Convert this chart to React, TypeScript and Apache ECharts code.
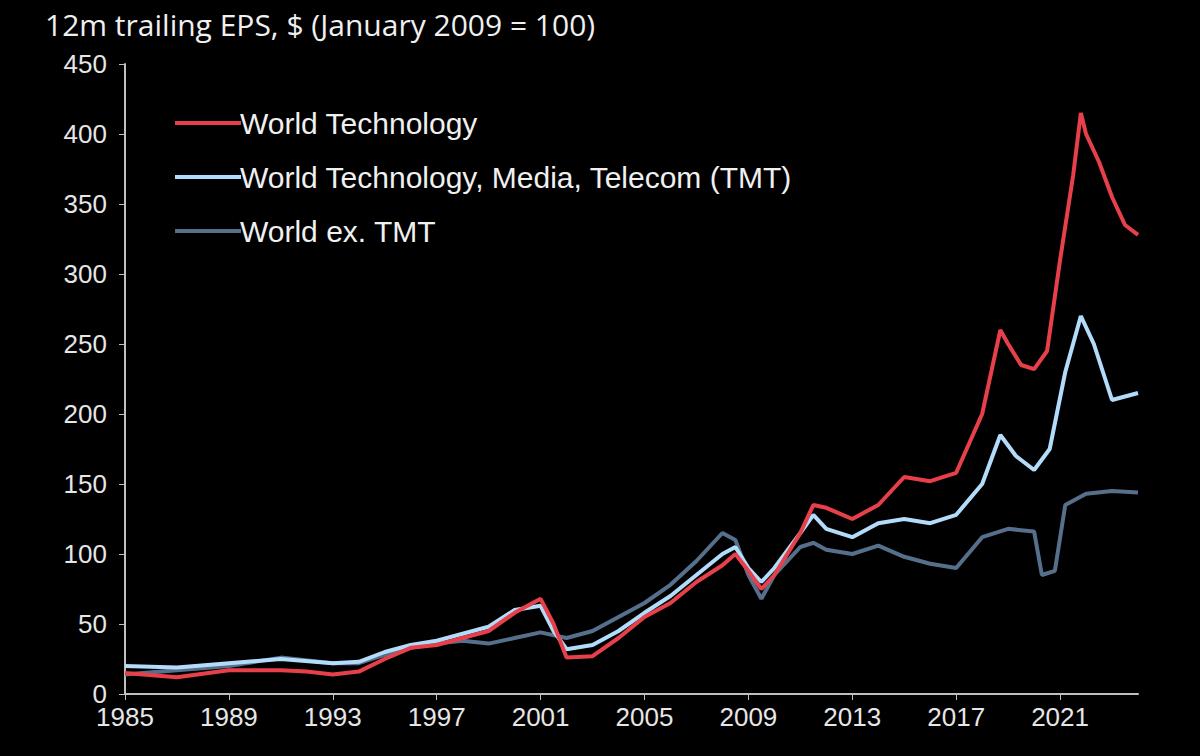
import { useEffect, useRef } from 'react'
import * as echarts from 'echarts'

const BASE_YEAR = 1985

const techYears = [1985, 1987, 1989, 1991, 1992, 1993, 1994, 1995, 1996, 1997, 1998, 1999, 2000, 2001, 2001.5, 2002, 2003, 2004, 2005, 2006, 2007, 2008, 2008.5, 2009, 2009.5, 2010, 2011, 2011.5, 2012, 2013, 2014, 2015, 2016, 2017, 2018, 2018.7, 2019, 2019.5, 2020, 2020.5, 2021, 2021.5, 2021.8, 2022, 2022.5, 2023, 2023.5, 2024]
const techValues = [15, 12, 17, 17, 16, 14, 16, 25, 33, 35, 40, 45, 58, 68, 50, 26, 27, 40, 55, 65, 80, 92, 100, 88, 75, 85, 115, 135, 133, 125, 135, 155, 152, 158, 200, 260, 250, 235, 232, 245, 310, 370, 415, 400, 380, 355, 335, 328]

const tmtYears = [1985, 1987, 1989, 1991, 1993, 1994, 1995, 1996, 1997, 1998, 1999, 2000, 2001, 2001.5, 2002, 2003, 2004, 2005, 2006, 2007, 2008, 2008.5, 2009, 2009.5, 2010, 2011, 2011.5, 2012, 2013, 2014, 2015, 2016, 2017, 2018, 2018.7, 2019.3, 2020, 2020.6, 2021.2, 2021.8, 2022.3, 2023, 2024]
const tmtValues = [20, 19, 22, 25, 22, 23, 30, 35, 38, 43, 48, 60, 63, 45, 32, 35, 45, 58, 70, 85, 100, 105, 90, 80, 90, 115, 128, 118, 112, 122, 125, 122, 128, 150, 185, 170, 160, 175, 230, 270, 250, 210, 215]

const exYears = [1985, 1987, 1989, 1991, 1993, 1994, 1995, 1996, 1997, 1998, 1999, 2000, 2001, 2002, 2003, 2004, 2005, 2006, 2007, 2008, 2008.5, 2009, 2009.5, 2010, 2011, 2011.5, 2012, 2013, 2014, 2015, 2016, 2017, 2018, 2019, 2020, 2020.3, 2020.8, 2021.2, 2022, 2023, 2024]
const exValues = [14, 17, 20, 26, 22, 22, 28, 33, 36, 38, 36, 40, 44, 40, 45, 55, 65, 78, 95, 115, 110, 85, 68, 85, 105, 108, 103, 100, 106, 98, 93, 90, 112, 118, 116, 85, 88, 135, 143, 145, 144]

const seriesNames = ['World Technology', 'World Technology, Media, Telecom (TMT)', 'World ex. TMT']
const seriesColors = ['#e8404a', '#b3dcfb', '#56708c']

const pairs = (years: number[], values: number[]) => years.map((y, i) => [y - BASE_YEAR, values[i]])

export default function App() {
  const ref = useRef<HTMLDivElement>(null)

  useEffect(() => {
    if (!ref.current) return
    const chart = echarts.init(ref.current, null, { renderer: 'svg' })
    const axisText = { color: '#e6e6e6', fontSize: 26, fontFamily: 'Liberation Sans' }
    const axisLine = { show: true, lineStyle: { color: '#bfbfbf', width: 2 } }
    const data = [pairs(techYears, techValues), pairs(tmtYears, tmtValues), pairs(exYears, exValues)]

    chart.setOption({
      animation: false,
      backgroundColor: '#000',
      title: {
        text: '12m trailing EPS, $ (January 2009 = 100)',
        left: 40,
        top: 4,
        textStyle: { color: '#f0f0f0', fontSize: 30, fontWeight: 'normal', fontFamily: 'Open Sans' },
      },
      grid: { left: 125, right: 62, top: 64, bottom: 62 },
      legend: {
        orient: 'vertical',
        left: 170,
        top: 103,
        itemGap: 24,
        itemWidth: 66,
        itemHeight: 4,
        icon: 'rect',
        textStyle: { color: '#f0f0f0', fontSize: 30, fontFamily: 'Liberation Sans', padding: [0, 0, 0, -6] },
        data: seriesNames,
      },
      xAxis: {
        type: 'value',
        min: 0,
        max: 39,
        interval: 4,
        axisLine,
        axisTick: { show: true, length: 6, lineStyle: { color: '#bfbfbf' } },
        splitLine: { show: false },
        axisLabel: { ...axisText, margin: 10, showMaxLabel: false, formatter: (v: number) => String(v + BASE_YEAR) },
      },
      yAxis: {
        type: 'value',
        min: 0,
        max: 450,
        interval: 50,
        axisLine,
        axisTick: { show: true, length: 6, lineStyle: { color: '#bfbfbf' } },
        splitLine: { show: false },
        axisLabel: { ...axisText, margin: 18 },
      },
      series: seriesNames.map((name, i) => ({
        name,
        type: 'line',
        data: data[i],
        showSymbol: false,
        color: seriesColors[i],
        lineStyle: { width: 4 },
        z: 10 - i,
      })),
    })
    return () => chart.dispose()
  }, [])

  return <div ref={ref} style={{ position: 'absolute', left: 0, top: 0, width: 1200, height: 756 }} />
}
